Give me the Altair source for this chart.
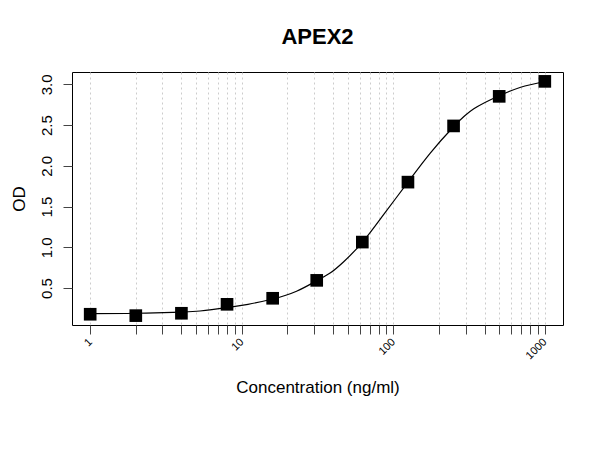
import altair as alt
import pandas as pd

# Standards (measured points)
conc = [1, 2, 4, 8, 16, 31.25, 62.5, 125, 250, 500, 1000]
od = [0.178, 0.161, 0.19, 0.30, 0.374, 0.594, 1.064, 1.80, 2.49, 2.853, 3.037]

# Fitted curve
fit_conc = [1, 2, 4, 5.3, 8, 11, 16, 23, 31.25, 38.3, 46.9, 62.5, 86.3, 125, 176, 250, 340, 500, 693, 1000]
fit_od = [0.185, 0.19, 0.205, 0.218, 0.26, 0.30, 0.365, 0.46, 0.59, 0.684, 0.82, 1.06, 1.40, 1.80, 2.16, 2.48, 2.70, 2.86, 2.965, 3.035]

# Axis ticks
x_ticks = [1, 2, 3, 4, 5, 6, 7, 8, 9, 10, 20, 30, 40, 50, 60, 70, 80, 90,
           100, 200, 300, 400, 500, 600, 700, 800, 900, 1000]
x_labels = [1, 10, 100, 1000]
y_ticks = [0.5, 1.0, 1.5, 2.0, 2.5, 3.0]

pts = pd.DataFrame({"conc": conc, "od": od})
fit = pd.DataFrame({"conc": fit_conc, "od": fit_od})

xscale = alt.Scale(type="log", domain=[0.7586, 1318.3], nice=False)
yscale = alt.Scale(domain=[0.046, 3.152], nice=False, zero=False)

label_test = " || ".join(f"datum.value == {v}" for v in x_labels)

x_axis = alt.Axis(
    values=x_ticks,
    format="d",
    labelExpr=f"({label_test}) ? datum.label : ''",
    labelAngle=315, labelAlign="right", labelBaseline="middle",
    labelFontSize=11, labelPadding=6, labelOverlap=False, labelFlush=False,
    tickSize=9, tickColor="#444444",
    grid=True, gridDash=[2, 3], gridColor="#cccccc",
    domain=False,
    title="Concentration (ng/ml)", titleFontSize=17, titleFontWeight="normal",
    titleX=245.5, titleY=67, titleBaseline="alphabetic", titleAlign="center",
)

y_axis = alt.Axis(
    values=y_ticks, format=".1f",
    labelAngle=270, labelAlign="center", labelBaseline="bottom",
    labelFontSize=15, labelPadding=9,
    tickSize=9, tickColor="#444444",
    grid=False, domain=False,
    title="OD", titleFontSize=17, titleFontWeight="normal",
    titleAngle=270, titleX=-53, titleY=126.5,
    titleAlign="center", titleBaseline="middle",
)

line = alt.Chart(fit).mark_line(color="black", strokeWidth=1.2, interpolate="natural").encode(
    x=alt.X("conc:Q", scale=xscale, axis=x_axis),
    y=alt.Y("od:Q", scale=yscale, axis=y_axis),
)

points = alt.Chart(pts).mark_square(color="black", size=160, opacity=1).encode(
    x=alt.X("conc:Q", scale=xscale),
    y=alt.Y("od:Q", scale=yscale),
)

chart = (
    alt.layer(line, points)
    .properties(
        width=491, height=253,
        title=alt.TitleParams("APEX2", fontSize=22, fontWeight="bold", anchor="middle",
                              offset=23, color="black"),
        autosize=alt.AutoSizeParams(type="none"),
        padding={"left": 64, "top": 64, "right": 29, "bottom": 110},
    )
    .configure(font="Liberation Sans")
    .configure_axis(labelColor="black", titleColor="black")
    .configure_view(stroke="black", strokeWidth=1)
)

chart.save("out.html", embed_options={"renderer": "svg", "actions": False})
